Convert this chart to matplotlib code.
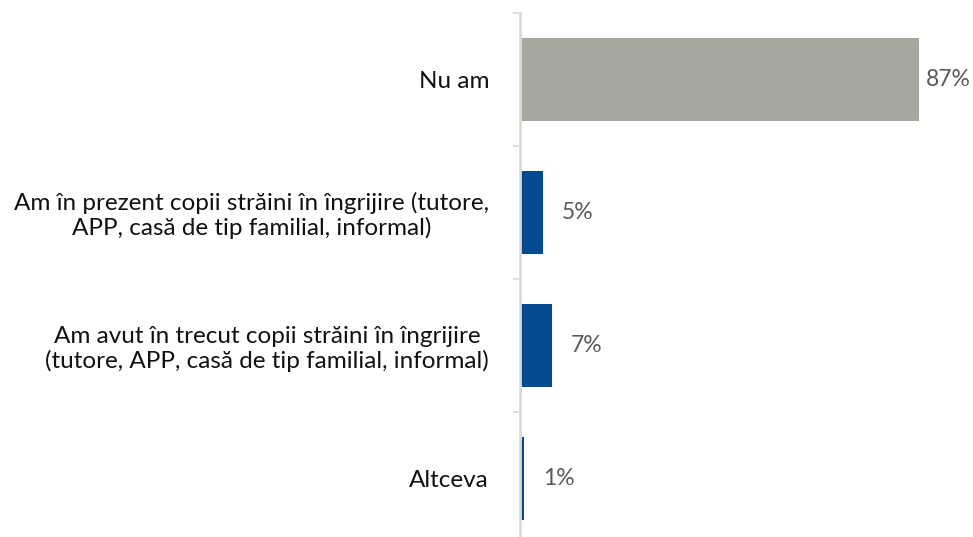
import matplotlib.pyplot as plt
import numpy as np

categories = [
    "Nu am",
    "Am în prezent copii străini în îngrijire (tutore,\nAPP, casă de tip familial, informal)",
    "Am avut în trecut copii străini în îngrijire\n(tutore, APP, casă de tip familial, informal)",
    "Altceva",
]
values = [87, 5, 7, 1]
colors = ["#A6A89F", "#034A90", "#034A90", "#034A90"]

plt.rcParams['font.family'] = ['Lato', 'DejaVu Sans']

fig = plt.figure(figsize=(9.73, 5.37), dpi=100)
ax = fig.add_axes([0.534, -0.0149, 0.462, 0.9907])

y = np.arange(len(categories))
ax.barh(y, values, height=0.63, color=colors, zorder=2)
ax.set_ylim(len(categories) - 0.5, -0.5)
ax.set_xlim(0, 98)

for yi, v in zip(y, values):
    pad = 7 if v > 50 else 19
    ax.annotate(f"{v}%", (v, yi), xytext=(pad * 0.72, 0), textcoords="offset points",
                va="center", ha="left", fontsize=16.5, color="#595959")

ax.set_yticks(y)
ax.set_yticklabels(categories, fontsize=17.5, color="#111111", multialignment="center",
                   linespacing=1.15)
ax.tick_params(axis="y", which="major", length=0, pad=22)
ax.set_yticks(np.arange(-0.5, len(categories)), minor=True)
ax.tick_params(axis="y", which="minor", length=5, width=1.2, color="#D9D9D9")
ax.set_xticks([])

for side in ["top", "right", "bottom"]:
    ax.spines[side].set_visible(False)
ax.spines["left"].set_color("#D9D9D9")
ax.spines["left"].set_linewidth(2)
ax.spines["left"].set_zorder(3)

fig.savefig("out.png", dpi=100)
